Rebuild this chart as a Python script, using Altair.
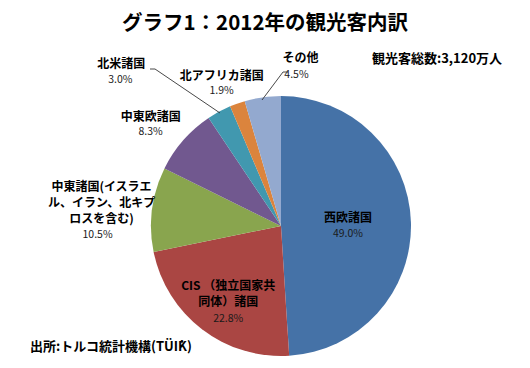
import altair as alt
import pandas as pd

# ---- data -------------------------------------------------------------
categories = [
    "西欧諸国",
    "CIS （独立国家共同体）諸国",
    "中東諸国(イスラエル、イラン、北キプロスを含む)",
    "中東欧諸国",
    "北米諸国",
    "北アフリカ諸国",
    "その他",
]
shares = [49.0, 22.8, 10.5, 8.3, 3.0, 1.9, 4.5]
colors = ["#4572A7", "#AA4643", "#89A54E", "#71588F", "#4198AF", "#DB843D", "#93A9CF"]

title_text = "グラフ1：2012年の観光客内訳"
total_text = "観光客総数:3,120万人"
source_text = "出所:トルコ統計機構(TÜİK)"

# ---- layout settings ----------------------------------------------------
FONT = "Noto Sans CJK JP"
CX, CY, R = 273, 218, 130
wrap_len = {1: 10, 2: 9}


def wrap(s, n):
    if n is None:
        return s
    return "\n".join(s[i:i + n] for i in range(0, len(s), n))


df = pd.DataFrame({
    "idx": list(range(len(categories))),
    "cat": categories,
    "share": shares,
})
df["label"] = [wrap(c, wrap_len.get(i)) for i, c in enumerate(categories)]
df["pct"] = [f"{v:.1f}%" for v in shares]

base = alt.Chart(df).encode(
    theta=alt.Theta("share:Q", stack=True),
    order=alt.Order("idx:Q"),
    x=alt.value(CX),
    y=alt.value(CY),
)

arcs = base.mark_arc(outerRadius=R, stroke=None).encode(
    color=alt.Color("cat:N", scale=alt.Scale(domain=categories, range=colors), sort=None, legend=None)
)

# per-label placement: (radius, dx, name_dy, pct_dx, pct_dy)
placement = {
    0: (67, 0, -6, 0, 10),
    1: (95, 5, -15, 5, 18),
    2: (185, 4, -15, 0, 33),
    3: (160, -10, -4, -10, 11),
    4: (180, -74, -4, -75, 12),
    5: (150, -9, -9, -9, 6),
    6: (160, 42, -10, 38, 7),
}

label_layers = []
for i, (r, dx, ndy, pdx, pdy) in placement.items():
    cond = f"datum.idx === {i}"
    name = base.mark_text(
        radius=r, dx=dx, dy=ndy, font=FONT, fontSize=12, fontWeight="bold",
        lineBreak="\n", lineHeight=16, align="center", baseline="middle", color="#000000",
    ).encode(text=alt.condition(cond, alt.Text("label:N"), alt.value("")))
    pct = base.mark_text(
        radius=r, dx=pdx, dy=pdy, font=FONT, fontSize=10.5, fontWeight="normal",
        align="center", baseline="middle", color="#1a1a1a",
    ).encode(text=alt.condition(cond, alt.Text("pct:N"), alt.value("")))
    label_layers += [name, pct]

one = pd.DataFrame({"a": [0]})


def seg(x1, y1, x2, y2):
    return alt.Chart(one).mark_rule(color="#333333", strokeWidth=0.9).encode(
        x=alt.value(x1), y=alt.value(y1), x2=alt.value(x2), y2=alt.value(y2)
    )


leaders = [
    seg(142, 61, 147, 61), seg(147, 61, 212, 105),
    seg(280, 64, 275, 64), seg(275, 64, 254, 92),
]


def txt(s, x, y, size, weight="bold"):
    return alt.Chart(pd.DataFrame({"t": [s]})).mark_text(
        font=FONT, fontSize=size, fontWeight=weight, align="center", baseline="middle", color="#000000"
    ).encode(text="t:N", x=alt.value(x), y=alt.value(y))


texts = [
    txt(title_text, 257, 16, 20.5),
    txt(total_text, 429, 51, 13),
    txt(source_text, 103, 339, 13),
]

chart = alt.layer(arcs, *label_layers, *leaders, *texts).properties(
    width=514, height=352, autosize="none", padding=0
).configure_view(stroke=None)

chart.save("out.html", embed_options={"renderer": "svg", "actions": False})
